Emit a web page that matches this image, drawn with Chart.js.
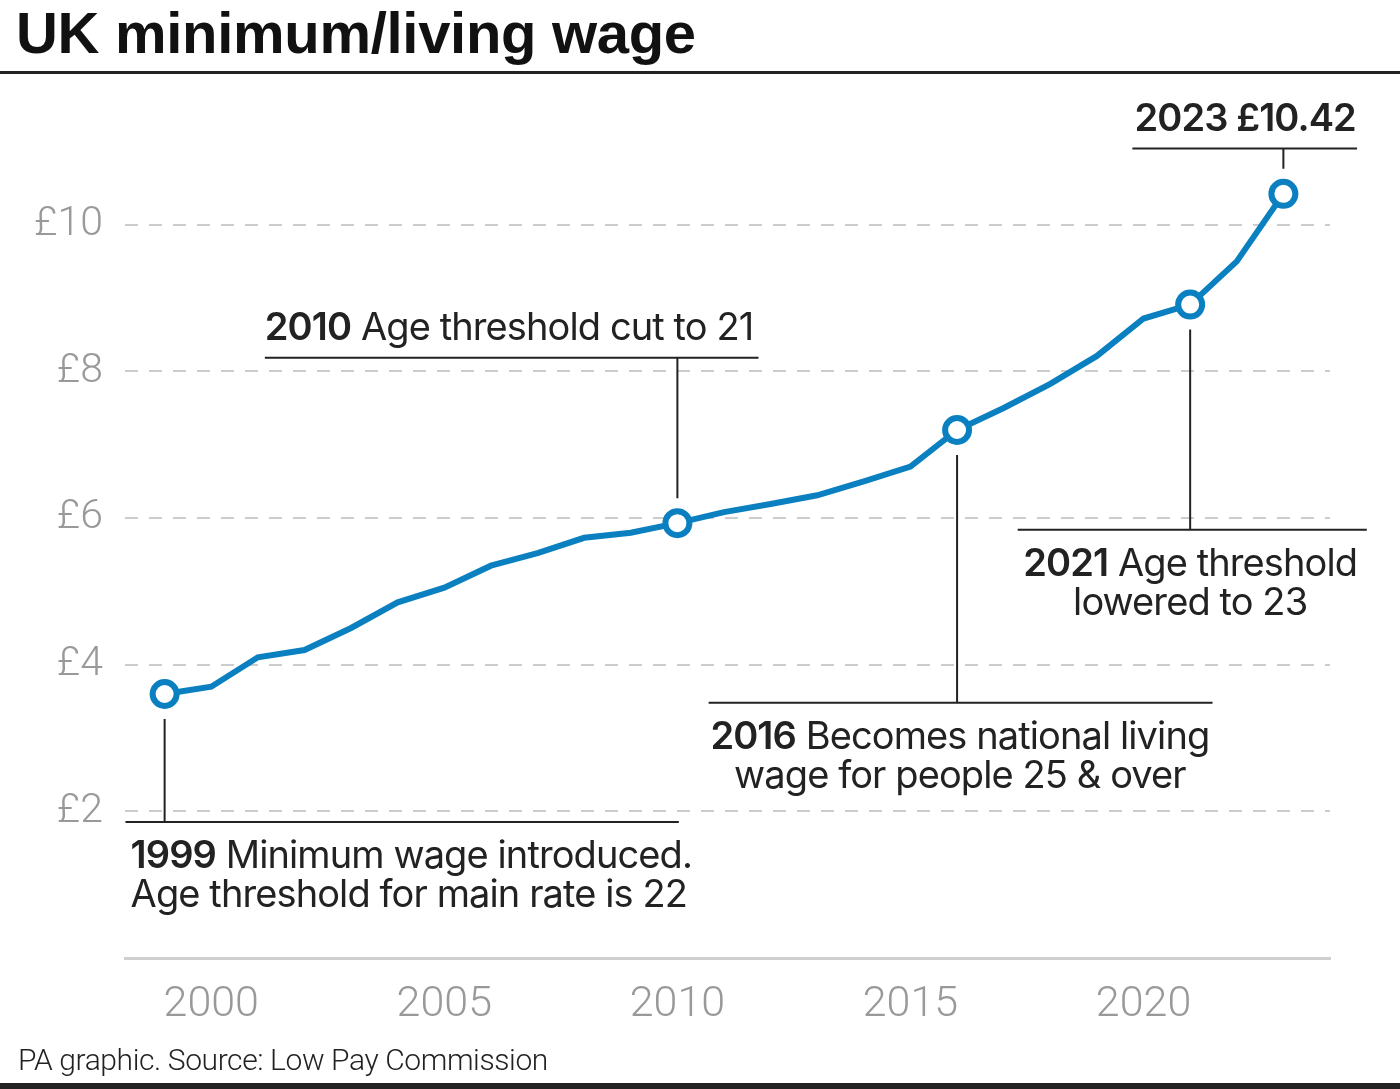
<!DOCTYPE html>
<html>
<head>
<meta charset="utf-8">
<script src="https://cdn.jsdelivr.net/npm/chart.js@4.4.1/dist/chart.umd.min.js"></script>
<style>
  html, body { margin: 0; padding: 0; background: #fff; }
  #wrap { width: 1400px; height: 1089px; position: relative; }
</style>
</head>
<body>
<div id="wrap"><canvas id="wageChart"></canvas></div>
<script>
// adult rate, £ per hour
const years = [1999, 2000, 2001, 2002, 2003, 2004, 2005, 2006, 2007, 2008, 2009, 2010, 2011,
  2012, 2013, 2014, 2015, 2016, 2017, 2018, 2019, 2020, 2021, 2022, 2023];
const wages = [3.60, 3.70, 4.10, 4.20, 4.50, 4.85, 5.05, 5.35, 5.52, 5.73, 5.80, 5.93, 6.08,
  6.19, 6.31, 6.50, 6.70, 7.20, 7.50, 7.83, 8.21, 8.72, 8.91, 9.50, 10.42];
const markedYears = [1999, 2010, 2016, 2021, 2023];
const xTicks = [2000, 2005, 2010, 2015, 2020];
const yTicks = [2, 4, 6, 8, 10];

// annotation text: [bold part, regular part] per line
const noteText = {
  1999: [['1999', ' Minimum wage introduced.'], ['', 'Age threshold for main rate is 22']],
  2010: [['2010', ' Age threshold cut to 21']],
  2016: [['2016', ' Becomes national living'], ['', 'wage for people 25 & over']],
  2021: [['2021', ' Age threshold'], ['', 'lowered to 23']],
  2023: [['2023 \u00a310.42', '']]
};

// where each note's rule sits (in axis units) and how its text lines up
const noteLayout = {
  1999: { ruleAt: 1.855, from: 1998.16, to: 2010.03, textAt: 1998.27, align: 'left' },
  2010: { ruleAt: 8.185, from: 2001.15, to: 2011.74, textAt: 2001.15, align: 'left' },
  2016: { ruleAt: 3.48, from: 2010.67, to: 2021.48, textAt: 2016.06, align: 'center' },
  2021: { ruleAt: 5.84, from: 2017.3, to: 2024.79, textAt: 2021.0, align: 'center' },
  2023: { ruleAt: 11.04, from: 2019.76, to: 2024.58, textAt: 2022.18, align: 'center' }
};

const BLUE = '#0a80c1';
const INK = '#222222';
const NOTE_FONT = '"Inter", "Noto Sans", sans-serif';
const TICK_FONT = 'Roboto, "Liberation Sans", sans-serif';

function drawRich(ctx, parts, x, y, align) {
  ctx.letterSpacing = '-0.9px';
  ctx.font = `600 38px ${NOTE_FONT}`;
  const wb = parts[0] ? ctx.measureText(parts[0]).width : 0;
  ctx.font = `400 38px ${NOTE_FONT}`;
  const wr = parts[1] ? ctx.measureText(parts[1]).width : 0;
  const total = wb + wr;
  let left = x;
  if (align === 'center') left = x - total / 2;
  ctx.textBaseline = 'middle';
  ctx.textAlign = 'left';
  ctx.fillStyle = INK;
  if (parts[0]) {
    ctx.font = `600 38px ${NOTE_FONT}`;
    ctx.fillText(parts[0], left, y);
  }
  if (parts[1]) {
    ctx.font = `400 38px ${NOTE_FONT}`;
    ctx.fillText(parts[1], left + wb, y);
  }
  ctx.letterSpacing = '0px';
}

const notesPlugin = {
  id: 'notes',
  beforeDatasetsDraw(chart) {
    const { ctx, scales: { x, y } } = chart;
    ctx.save();
    ctx.strokeStyle = INK;
    ctx.lineWidth = 2;
    markedYears.forEach(yr => {
      const lay = noteLayout[yr];
      const px = x.getPixelForValue(yr);
      const py = y.getPixelForValue(wages[years.indexOf(yr)]);
      const ry = y.getPixelForValue(lay.ruleAt);
      const gap = 25;
      ctx.beginPath();
      ctx.moveTo(px, ry > py ? py + gap : py - gap);
      ctx.lineTo(px, ry);
      ctx.moveTo(x.getPixelForValue(lay.from), ry);
      ctx.lineTo(x.getPixelForValue(lay.to), ry);
      ctx.stroke();
    });
    ctx.restore();
  },
  afterDraw(chart) {
    const { ctx, scales: { x, y } } = chart;
    ctx.save();
    markedYears.forEach(yr => {
      const lay = noteLayout[yr];
      const py = y.getPixelForValue(wages[years.indexOf(yr)]);
      const ry = y.getPixelForValue(lay.ruleAt);
      const tx = x.getPixelForValue(lay.textAt);
      const lines = noteText[yr];
      if (ry < py) {
        drawRich(ctx, lines[0], tx, ry - 29, lay.align);
      } else {
        lines.forEach((ln, i) => drawRich(ctx, ln, tx, ry + 35 + i * 39, lay.align));
      }
    });

    // title, rules and source line
    ctx.fillStyle = '#111';
    ctx.textAlign = 'left';
    ctx.textBaseline = 'alphabetic';
    ctx.font = 'bold 58px "Liberation Sans", Arial, sans-serif';
    ctx.letterSpacing = '-0.3px';
    ctx.fillText('UK minimum/living wage', 16, 53);
    ctx.letterSpacing = '0px';
    ctx.fillStyle = INK;
    ctx.fillRect(0, 71, 1400, 3);
    ctx.fillRect(0, 1083, 1400, 6);
    ctx.font = `300 30px ${TICK_FONT}`;
    ctx.letterSpacing = '-0.4px';
    ctx.fillStyle = INK;
    ctx.fillText('PA graphic. Source: Low Pay Commission', 18, 1070);
    ctx.restore();
  }
};

new Chart(document.getElementById('wageChart'), {
  type: 'line',
  data: {
    datasets: [{
      data: years.map((yr, i) => ({ x: yr, y: wages[i] })),
      borderColor: BLUE,
      borderWidth: 6,
      tension: 0,
      clip: false,
      pointRadius: c => markedYears.includes(years[c.dataIndex]) ? 12 : 0,
      pointBorderWidth: 6,
      pointBackgroundColor: '#fff',
      pointBorderColor: BLUE
    }]
  },
  options: {
    responsive: true,
    maintainAspectRatio: false,
    animation: false,
    layout: { padding: { top: 78, right: 70, left: 0, bottom: 0 } },
    plugins: { legend: { display: false }, tooltip: { enabled: false } },
    scales: {
      x: {
        type: 'linear',
        min: 1998.15,
        max: 2024,
        afterBuildTicks: s => { s.ticks = xTicks.map(v => ({ value: v })); },
        afterFit: s => { s.height = 131; },
        grid: { display: false, drawTicks: false },
        border: { display: true, color: '#cfcfcf', width: 3 },
        ticks: {
          color: '#999',
          padding: 21,
          font: { family: TICK_FONT, size: 43, weight: '300' },
          callback: v => String(v)
        }
      },
      y: {
        min: 0,
        max: 12,
        afterBuildTicks: s => { s.ticks = yTicks.map(v => ({ value: v })); },
        afterFit: s => { s.width = 125; },
        grid: { color: '#cccccc', lineWidth: 2, drawTicks: false, borderDash: [13, 11] },
        border: { display: false, dash: [13, 11] },
        ticks: {
          color: '#999',
          padding: 22,
          font: { family: TICK_FONT, size: 41, weight: '300' },
          callback: v => '\u00a3' + v
        }
      }
    }
  },
  plugins: [notesPlugin]
});
</script>
</body>
</html>
